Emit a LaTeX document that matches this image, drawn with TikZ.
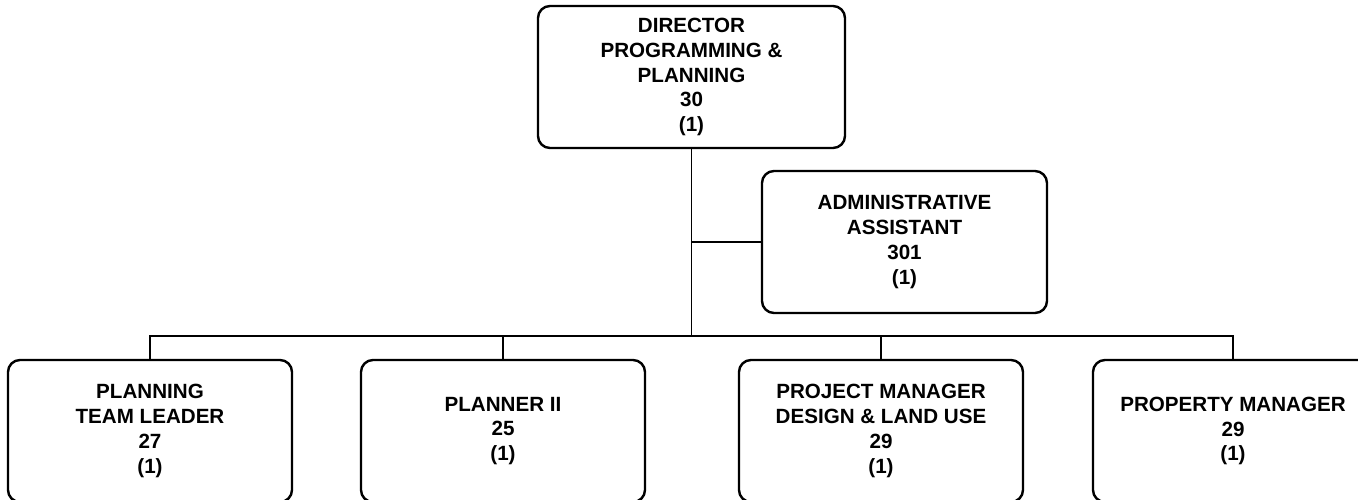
\documentclass[tikz,border=0pt]{standalone}
\usepackage{fontspec}
\setmainfont{Liberation Sans}
\begin{document}
\begin{tikzpicture}[x=1pt,y=1pt,
  post/.style={draw=black, line width=2.4pt, rounded corners=12pt,
    minimum width=284pt, minimum height=142pt, align=center,
    inner sep=0pt, font=\fontsize{20.6}{24.8}\selectfont\bfseries},
  link/.style={draw=black, line width=1.4pt}]
\useasboundingbox (0,0) rectangle (1358,-500);
\clip (0,0) rectangle (1358,-500);
% director and assistant
\node[post, minimum width=307pt] (dir) at (691.5,-77)
  {DIRECTOR\\PROGRAMMING \&\\PLANNING\\30\\(1)};
\node[post, minimum width=285pt] (adm) at (904.5,-242)
  {ADMINISTRATIVE\\ASSISTANT\\301\\(1)};
% staff positions
\node[post] (ptl) at (150,-431) {PLANNING\\TEAM LEADER\\27\\(1)};
\node[post] (pl2) at (503,-431) {PLANNER II\\25\\(1)};
\node[post] (pmd) at (881,-431) {PROJECT MANAGER\\DESIGN \& LAND USE\\29\\(1)};
\node[post, minimum width=280pt] (prm) at (1233,-431) {PROPERTY MANAGER\\29\\(1)};
% connectors
\coordinate (bus) at (0,-336);
\draw[link] (dir.south) -- (dir.south |- bus);
\draw[link] (dir.south |- adm.west) -- (adm.west);
\draw[link] (ptl.north) |- (prm.north |- bus) -- (prm.north);
\draw[link] (pl2.north) -- (pl2.north |- bus);
\draw[link] (pmd.north) -- (pmd.north |- bus);
\end{tikzpicture}
\end{document}
